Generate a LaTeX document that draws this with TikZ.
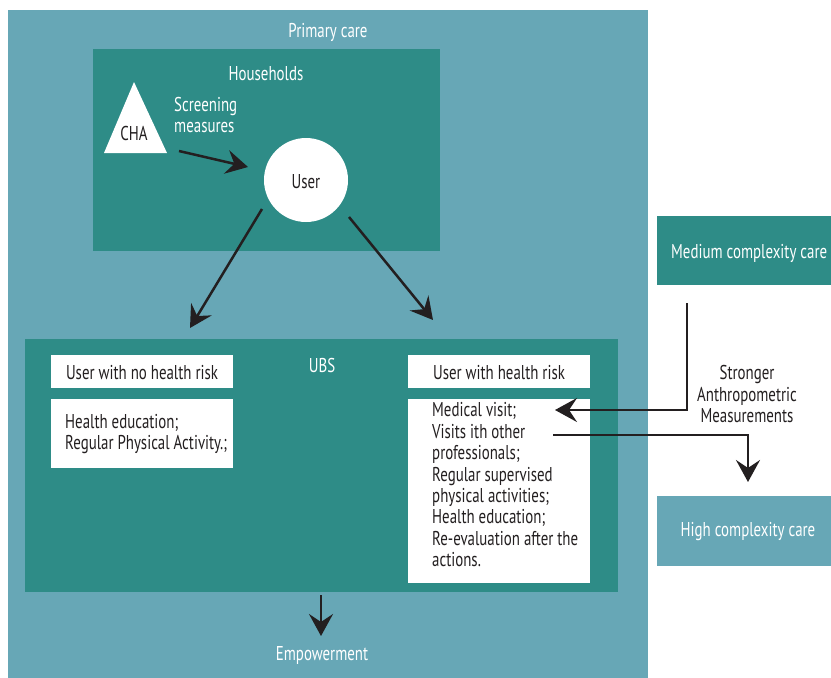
\documentclass[tikz,border=0pt]{standalone}
\usepackage{fontspec}
\setmainfont{PT Sans}[FakeStretch=0.745]
\usetikzlibrary{arrows.meta}
\definecolor{lightteal}{RGB}{103,167,182}
\definecolor{darkteal}{RGB}{46,140,135}
\definecolor{ink}{RGB}{35,31,32}
\tikzset{
  panel/.style={inner sep=0pt, outer sep=0pt, draw=none},
  whitebox/.style={panel, fill=white, minimum width=182pt},
  lbl/.style={inner sep=0pt, font=\fontsize{20}{21.4}\selectfont},
  wlbl/.style={lbl, text=white},
  dlbl/.style={lbl, text=ink},
  arr/.style={draw=ink, line width=2.5pt, -{Stealth[length=22pt,width=24pt,inset=8pt]}}
}
\begin{document}
\begin{tikzpicture}[x=1pt,y=-1pt]
\useasboundingbox (0,0) rectangle (831,678);
\fill[white] (0,0) rectangle (831,678);
% panels
\node[panel, fill=lightteal, minimum width=640pt, minimum height=668pt] (primary) at (328,344) {};
\node[panel, fill=darkteal, minimum width=347pt, minimum height=202pt] (house) at (266.5,150) {};
\node[panel, fill=darkteal, minimum width=593pt, minimum height=253pt] (ubs) at (321.5,465.5) {};
\node[panel, fill=darkteal, minimum width=180pt, minimum height=69pt] (medium) at (747,250.5) {};
\node[panel, fill=lightteal, minimum width=174pt, minimum height=70pt] (high) at (744,531) {};
% white boxes
\node[whitebox, minimum height=33pt] (nohr) at (142,371.5) {};
\node[whitebox, minimum height=69pt] (nohrlist) at (142,433.5) {};
\node[whitebox, minimum height=33pt] (hr) at (499,371.5) {};
\node[whitebox, minimum height=184pt] (hrlist) at (499,491) {};
% labels
\node[wlbl] (primarylbl) at (328,32) {Primary care};
\node[wlbl] (houselbl) at (266,74) {Households};
\node[wlbl] (ubslbl) at (322,365) {UBS};
\node[wlbl] (emp) at (322,655) {Empowerment};
\node[wlbl, anchor=west] (medlbl) at (671,253) {Medium complexity care};
\node[wlbl] (highlbl) at (748,532) {High complexity care};
\node[dlbl] (nohrlbl) at (142,373) {User with no health risk};
\node[dlbl] (hrlbl) at (499,373) {User with health risk};
\node[dlbl, anchor=north west, align=left] (nohrtxt) at (65,414) {Health education;\\Regular Physical Activity.;};
\node[dlbl, anchor=north west, align=left] (hrtxt) at (432,402.5) {Medical visit;\\Visits ith other\\professionals;\\Regular supervised\\physical activities;\\Health education;\\Re-evaluation after the\\actions.};
\node[dlbl, align=center] (stronger) at (747,394) {Stronger\\Anthropometric\\Measurements};
% CHA triangle and user circle
\fill[white] (134,82) -- (167,153) -- (104,153) -- cycle;
\node[dlbl] (cha) at (134,133) {CHA};
\node[wlbl, anchor=west, align=left] (screen) at (174,115) {Screening\\measures};
\node[circle, fill=white, minimum size=84pt, inner sep=0pt] (user) at (306,180) {};
\node[dlbl] (userlbl) at (306,182) {User};
% connector ends
\coordinate (s1) at (179,151);
\coordinate (s2) at (248,167);
\coordinate (l1) at (262,209);
\coordinate (l2) at (190,328);
\coordinate (r1) at (349,217);
\coordinate (r2) at (433,320);
\coordinate (m1) at (687,303);
\coordinate (m2) at (555,410);
\coordinate (h1) at (553,435);
\coordinate (h2) at (748,482);
\coordinate (e1) at (321,595);
\coordinate (e2) at (321,636);
% connectors
\draw[arr] (s1) -- (s2);
\draw[arr] (l1) -- (l2);
\draw[arr] (r1) -- (r2);
\draw[arr] (m1) |- (m2);
\draw[arr] (h1) -| (h2);
\draw[arr] (e1) -- (e2);
\end{tikzpicture}
\end{document}
